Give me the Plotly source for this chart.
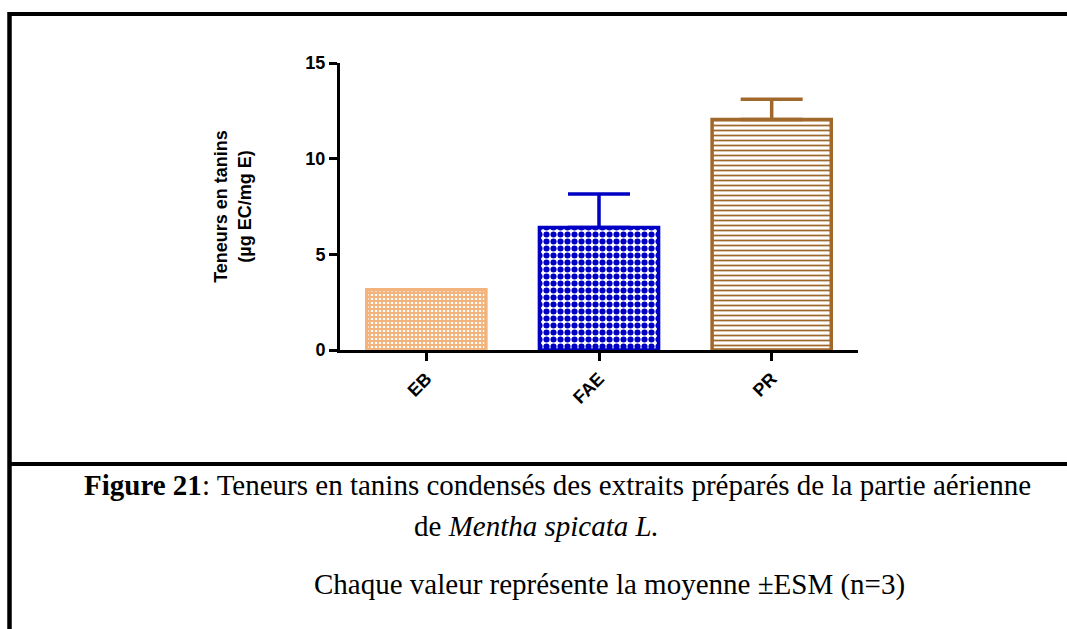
import plotly.graph_objects as go

categories = ["EB", "FAE", "PR"]
means = [3.15, 6.4, 12.05]
esm = [0.0, 1.75, 1.05]
y_ticks = [0, 5, 10, 15]

colors = ["#F2B47C", "#0000C4", "#A0682A"]
patterns = ["+", ".", "-"]
pat_sizes = [4, 7, 5]
pat_solid = [0.7, 0.6, 0.35]

W, H = 1067, 629
L, R, T, B = 340, 1067 - 858, 63, 629 - 350

fig = go.Figure()
for i, c in enumerate(categories):
    fig.add_trace(go.Bar(
        x=[c], y=[means[i]], width=0.69,
        marker=dict(color="white",
                    line=dict(color=colors[i], width=3.5),
                    pattern=dict(shape=patterns[i], fgcolor=colors[i], bgcolor="white",
                                 size=pat_sizes[i], solidity=pat_solid[i], fillmode="replace")),
        error_y=dict(type="data", symmetric=False, array=[esm[i]], arrayminus=[0],
                     color=colors[i], thickness=3.5, width=31, visible=esm[i] > 0),
        showlegend=False,
    ))

def px(x):
    return (x - L) / (W - L - R)

def py(y):
    return (H - B - y) / (H - T - B)

shapes = [
    dict(type="line", xref="paper", yref="paper", x0=px(9.5), x1=px(1067), y0=py(14), y1=py(14),
         line=dict(color="black", width=4)),
    dict(type="line", xref="paper", yref="paper", x0=px(9.5), x1=px(9.5), y0=py(12), y1=py(629),
         line=dict(color="black", width=4.5)),
    dict(type="line", xref="paper", yref="paper", x0=px(9.5), x1=px(1067), y0=py(464), y1=py(464),
         line=dict(color="black", width=4)),
]

serif = "Liberation Serif, Times New Roman, serif"
cap_font = dict(family=serif, size=29, color="black")
annotations = [
    dict(xref="paper", yref="paper", x=px(82), y=py(485), xanchor="left", yanchor="middle",
         showarrow=False, font=cap_font,
         text="<b>Figure 21</b>: Teneurs en tanins condensés des extraits préparés de la partie aérienne"),
    dict(xref="paper", yref="paper", x=px(412), y=py(526), xanchor="left", yanchor="middle",
         showarrow=False, font=cap_font,
         text="de <i>Mentha spicata L.</i>"),
    dict(xref="paper", yref="paper", x=px(312), y=py(584), xanchor="left", yanchor="middle",
         showarrow=False, font=cap_font,
         text="Chaque valeur représente la moyenne ±ESM (n=3)"),
]

axfont = dict(family="Liberation Sans, Arial, sans-serif", size=18, color="black")
fig.update_layout(
    width=W, height=H,
    margin=dict(l=L, r=R, t=T, b=B, autoexpand=False),
    paper_bgcolor="white", plot_bgcolor="white",
    barmode="overlay",
    shapes=shapes, annotations=annotations,
    xaxis=dict(range=[-0.5, 2.5], showline=True, linecolor="black", linewidth=3,
               ticks="outside", ticklen=8, tickwidth=3, tickcolor="black",
               tickangle=-45, tickfont=axfont, showgrid=False, zeroline=False,
               tickvals=categories, ticktext=["<b>%s</b>" % c for c in categories]),
    yaxis=dict(range=[0, 15], tickvals=y_ticks, ticktext=["<b>%d</b>" % v for v in y_ticks],
               showline=True, linecolor="black", linewidth=3,
               ticks="outside", ticklen=8, tickwidth=3, tickcolor="black",
               tickfont=axfont, showgrid=False, zeroline=False,
               title=dict(text="<b>Teneurs en tanins<br>(µg EC/mg E)</b>",
                          font=dict(family="Liberation Sans, Arial, sans-serif", size=18, color="black"),
                          standoff=50)),
)

fig.write_html("out.html")
